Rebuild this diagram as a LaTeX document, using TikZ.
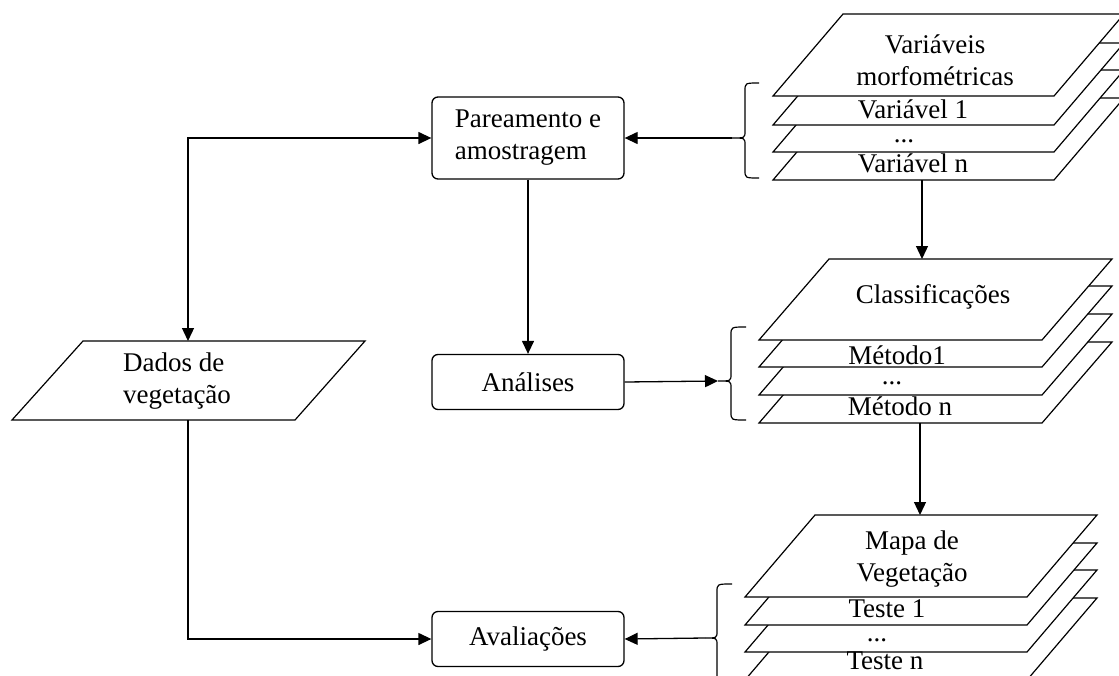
\documentclass[tikz,border=0pt]{standalone}
\usepackage{fontspec}
\setmainfont{Liberation Serif}
\usetikzlibrary{arrows.meta}
\newcommand\bracedraw[6]{% #1 hook x, #2 vertical x, #3 top y, #4 tip x, #5 tip y, #6 bottom y
  \draw[bracestyle] (#1,#3) .. controls (#2,#3) .. (#2,#3+8) -- (#2,#5-7)
    .. controls (#2,#5) .. (#4,#5) .. controls (#2,#5) .. (#2,#5+7)
    -- (#2,#6-8) .. controls (#2,#6) .. (#1,#6);}
\begin{document}
\begin{tikzpicture}[x=1pt,y=-1pt,
  every node/.style={font=\fontsize{27}{32}\selectfont, inner sep=0pt},
  box/.style={draw, rounded corners=6pt, minimum width=192pt, minimum height=82pt, align=left, line width=1.3pt},
  smallbox/.style={box, minimum height=55pt},
  layer/.style={draw, fill=white, line width=1.2pt},
  outline/.style={draw, line width=1.2pt},
  bracestyle/.style={draw, line width=1.2pt},
  arr/.style={draw, line width=1.3pt, -{Triangle[length=13pt,width=12pt]}},
  arrboth/.style={draw, line width=1.3pt, {Triangle[length=13pt,width=12pt]}-{Triangle[length=13pt,width=12pt]}},
  txt/.style={align=center}
]
\clip (0,0) rectangle (1119,675);
\fill[white] (0,0) rectangle (1119,675);

% middle boxes
\node[box] (pareamento) at (528,138) {Pareamento e\\amostragem};
\node[smallbox] (analises) at (528,382) {Análises};
\node[smallbox] (avaliacoes) at (528,639) {Avaliações};

% Dados de vegetacao
\draw[outline] (12,420) -- (295,420) -- (365,341) -- (83,341) -- cycle;
\node[align=left] (dados) at (177,381) {Dados de\\vegetação};
\coordinate (dadostop) at (188,341);
\coordinate (dadosbot) at (188,420);

% stack 1
\draw[layer] (773,180) -- ++(281,0) -- ++(70,-82) -- ++(-281,0) -- cycle;
\draw[layer] (773,152) -- ++(281,0) -- ++(70,-82) -- ++(-281,0) -- cycle;
\draw[layer] (773,125) -- ++(281,0) -- ++(70,-82) -- ++(-281,0) -- cycle;
\draw[layer] (773,96) -- ++(281,0) -- ++(70,-82) -- ++(-281,0) -- cycle;
\node[txt] (s1title) at (935,60) {Variáveis\\morfométricas};
\node (s1a) at (913,109) {Variável 1};
\node (s1dots) at (904,141) {...};
\node (s1n) at (913,163) {Variável n};
\coordinate (s1bot) at (922,180);

% stack 2
\draw[layer] (759,423) -- ++(283,0) -- ++(70,-81) -- ++(-283,0) -- cycle;
\draw[layer] (759,395) -- ++(283,0) -- ++(70,-81) -- ++(-283,0) -- cycle;
\draw[layer] (759,367) -- ++(283,0) -- ++(70,-81) -- ++(-283,0) -- cycle;
\draw[layer] (759,340) -- ++(283,0) -- ++(70,-81) -- ++(-283,0) -- cycle;
\node (s2title) at (933,297) {Classificações};
\node (s2a) at (897,355) {Método1};
\node (s2dots) at (892,383) {...};
\node (s2n) at (900,406) {Método n};
\coordinate (s2top) at (922,259);
\coordinate (s2bot) at (920,423);

% stack 3
\draw[layer] (745,680) -- ++(282,0) -- ++(70,-82) -- ++(-282,0) -- cycle;
\draw[layer] (745,652) -- ++(282,0) -- ++(70,-82) -- ++(-282,0) -- cycle;
\draw[layer] (745,625) -- ++(282,0) -- ++(70,-82) -- ++(-282,0) -- cycle;
\draw[layer] (745,597) -- ++(282,0) -- ++(70,-82) -- ++(-282,0) -- cycle;
\node[txt] (s3title) at (912,559) {Mapa de\\Vegetação};
\node (s3a) at (887,609) {Teste 1};
\node (s3dots) at (877,640) {...};
\node (s3n) at (885,661) {Teste n};
\coordinate (s3top) at (920,515);

% braces
\bracedraw{759}{745}{83}{732}{138}{178}
\bracedraw{746}{731}{327}{718}{381}{420}
\bracedraw{732}{717}{584}{705}{638}{690}
\coordinate (b1) at (732,138);
\coordinate (b2) at (718,381);
\coordinate (b3) at (705,638);

% connectors
\draw[arrboth] (dadostop) |- (pareamento.west);
\draw[arr] (dadosbot) |- (avaliacoes.west);
\draw[arr] (pareamento.south) -- (analises.north);
\draw[arr] (b1) -- (pareamento.east);
\draw[arr] (analises.east) -- (b2);
\draw[arr] (b3) -- (avaliacoes.east);
\draw[arr] (s1bot) -- (s2top);
\draw[arr] (s2bot) -- (s3top);
\end{tikzpicture}
\end{document}
